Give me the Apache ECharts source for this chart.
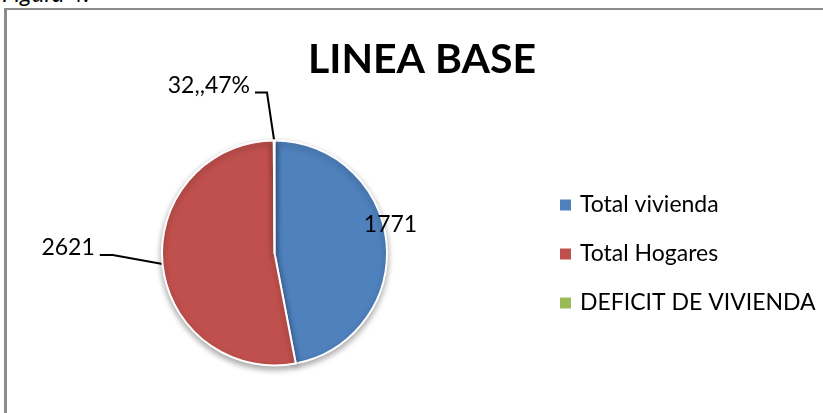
<!DOCTYPE html>
<html>
<head>
<meta charset="utf-8">
<script src="https://cdn.jsdelivr.net/npm/echarts@6/dist/echarts.min.js"></script>
<style>
  html, body { margin: 0; padding: 0; background: #fff; overflow: hidden; }
  #caption {
    position: absolute; left: 2px; top: -19px;
    font: italic 24px Lato, sans-serif; color: #000; line-height: 24px;
  }
  #frame {
    position: absolute; left: 4px; top: 8px; width: 900px; height: 500px;
    border-left: 3px solid #8c8c8c; border-top: 2px solid #8c8c8c;
    pointer-events: none;
  }
  #chart { position: absolute; left: 0; top: 0; width: 823px; height: 413px; }
</style>
</head>
<body>
<div id="caption">Figura 4.</div>
<div id="chart"></div>
<div id="frame"></div>
<script>
// categories as in the legend
const categories = ['Total vivienda', 'Total Hogares', 'DEFICIT DE VIVIENDA'];
// label text printed on each slice
const labelTexts = ['1771', '2621', '32,,47%'];
// slice share (%)
const sliceShare = [46.97, 52.93, 0.1];
const colors = ['#4F81BD', '#C0504D', '#9BBB59'];

const FONT = 'Lato, sans-serif';

const seriesData = categories.map((name, i) => ({
  name: name,
  value: sliceShare[i],
  itemStyle: { color: colors[i] }
}));
// blue label sits on the slice edge, no leader
seriesData[0].label = { position: 'inside' };
seriesData[0].labelLine = { show: false };
seriesData[1].labelLine = { length: 50, length2: 13 };
seriesData[2].labelLine = { length: 48, length2: 12 };

// nudges (px) so labels and leaders sit like the Excel original
const labelShift = [[57, -23], [0, -21], [-7, -7]];
const lineShift = [[0, 0], [0, -14], [-7, 0]];

const option = {
  animation: false,
  color: colors,
  title: {
    text: 'LINEA BASE',
    left: 303,
    top: 34,
    textStyle: { fontFamily: FONT, fontWeight: 'bold', fontSize: 41, color: '#000' }
  },
  legend: {
    orient: 'vertical',
    left: 558,
    top: 193,
    padding: 0,
    itemWidth: 13,
    itemHeight: 13,
    itemGap: 25,
    icon: 'rect',
    textStyle: { fontFamily: FONT, fontSize: 23, color: '#000', lineHeight: 24, padding: [0, 0, 0, 3] },
    data: categories
  },
  series: [{
    type: 'pie',
    center: [274.5, 253],
    radius: 112.5,
    startAngle: 90,
    clockwise: true,
    avoidLabelOverlap: false,
    emphasis: { disabled: true },
    itemStyle: {
      borderColor: '#fff',
      borderWidth: 2,
      shadowColor: 'rgba(0,0,0,0.35)',
      shadowBlur: 6,
      shadowOffsetY: 3
    },
    label: {
      show: true,
      formatter: p => labelTexts[p.dataIndex],
      fontFamily: FONT,
      fontSize: 23,
      color: '#000',
      distanceToLabelLine: 5
    },
    labelLine: {
      show: true,
      lineStyle: { color: '#000', width: 2 }
    },
    labelLayout: function (p) {
      const s = labelShift[p.dataIndex];
      const out = { dx: s[0], dy: s[1] };
      const pts = p.labelLinePoints;
      if (pts && pts.length === 3) {
        const l = lineShift[p.dataIndex];
        out.labelLinePoints = [
          pts[0],
          [pts[1][0] + l[0], pts[1][1] + l[1]],
          [pts[2][0] + l[0], pts[2][1] + l[1]]
        ];
      }
      return out;
    },
    data: seriesData
  }]
};

const myChart = echarts.init(document.getElementById('chart'));
myChart.setOption(option);
</script>
</body>
</html>
